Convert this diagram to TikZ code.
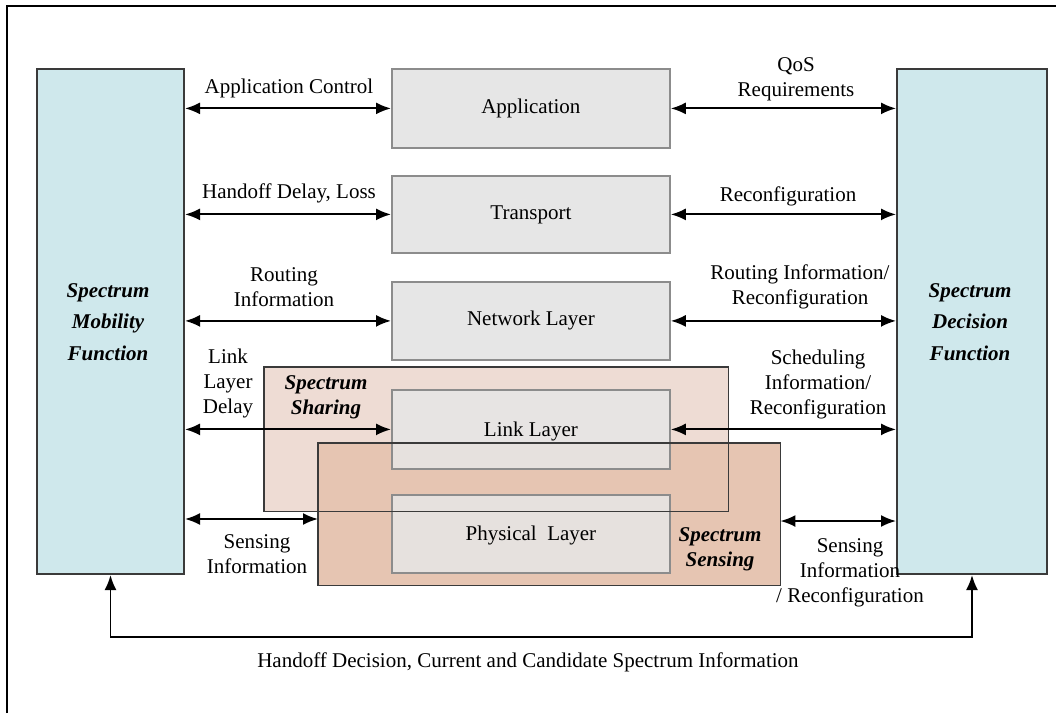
\documentclass[tikz,border=0pt]{standalone}
\usepackage{fontspec}
\setmainfont{Liberation Serif}
\usetikzlibrary{arrows.meta}
\definecolor{bluefill}{HTML}{CFE8EC}
\definecolor{grayfill}{HTML}{E6E6E6}
\definecolor{sharefill}{HTML}{EEDCD4}
\definecolor{sensefill}{HTML}{E6C5B2}
\definecolor{boxline}{HTML}{3A3A3A}
\definecolor{grayline}{HTML}{8C8C8C}
\begin{document}
\begin{tikzpicture}[x=1pt,y=-1pt,
  every node/.style={font=\fontsize{21}{25}\selectfont, align=center},
  funcbox/.style={draw=boxline, line width=2pt, fill=bluefill, inner sep=0pt, anchor=north west, minimum height=505pt},
  layerbox/.style={draw=grayline, line width=1.8pt, fill=grayfill, inner sep=0pt, anchor=north west, minimum width=278pt},
  zonefill/.style={inner sep=0pt, anchor=north west},
  zoneline/.style={draw=boxline, line width=1.6pt},
  link/.style={{Latex[length=15pt,width=12pt]}-{Latex[length=15pt,width=12pt]}, line width=1.9pt},
  lbl/.style={inner sep=0pt},
  title/.style={inner sep=0pt, font=\fontsize{21}{31.5}\selectfont\bfseries\itshape},
  ztitle/.style={inner sep=0pt, font=\fontsize{21}{25}\selectfont\bfseries\itshape}
]
\useasboundingbox (0,0) rectangle (1056,713);
\fill[white] (0,0) rectangle (1056,713);
% outer frame (only left and top edges visible)
\draw[line width=1.8pt] (7,713) -- (7,6) -- (1056,6);

% function boxes
\node[funcbox, minimum width=147pt] (mob) at (36,68) {};
\node[funcbox, minimum width=150pt] (dec) at (896,68) {};

% zone fills
\node[zonefill, fill=sharefill, minimum width=464pt, minimum height=144pt] (shr) at (264,367) {};
\node[zonefill, fill=sensefill, minimum width=462pt, minimum height=142pt] (sen) at (318,443) {};

% layer boxes
\node[layerbox, minimum height=79pt] (app) at (391,68) {};
\node[layerbox, minimum height=77pt] (trn) at (391,175) {};
\node[layerbox, minimum height=78pt] (net) at (391,281) {};
\node[layerbox, minimum height=79pt, fill opacity=0.85] (lnk) at (391,389) {};
\node[layerbox, minimum height=78pt, fill opacity=0.85] (phy) at (391,494) {};
\node at (app.center) {Application};
\node at (trn.center) {Transport};
\node at (net.center) {Network Layer};
\node at ([yshift=-2pt]lnk.center) {Link Layer};
\node at ([yshift=-2pt]phy.center) {Physical\ \ Layer};

% zone outlines
\draw[zoneline] (shr.north west) rectangle (shr.south east);
\draw[zoneline] (sen.north west) rectangle (sen.south east);

% titles
\node[title] at (108,322) {Spectrum\\Mobility\\Function};
\node[title] at (970,322) {Spectrum\\Decision\\Function};
\node[ztitle] at (326,397) {Spectrum\\Sharing};
\node[ztitle] at (720,549) {Spectrum\\Sensing};

% connectors
\draw[link] (mob.east |- app.west) -- (app.west);
\draw[link] (app.east) -- (dec.west |- app.east);
\draw[link] (mob.east |- trn.west) -- (trn.west);
\draw[link] (trn.east) -- (dec.west |- trn.east);
\draw[link] (mob.east |- net.west) -- (net.west);
\draw[link] (net.east) -- (dec.west |- net.east);
\draw[link] (mob.east |- lnk.west) -- (lnk.west);
\draw[link] (lnk.east) -- (dec.west |- lnk.east);
\coordinate (sl) at (0,519);
\coordinate (sr) at (0,521);
\draw[link] (mob.east |- sl) -- (sen.west |- sl);
\draw[link] (sen.east |- sr) -- (dec.west |- sr);
\coordinate (bot) at (0,637);
\draw[link] (mob.south) -- (mob.south |- bot) -| (dec.south);

% labels
\node[lbl] at (289,88) {Application Control};
\node[lbl] at (796,79) {QoS\\Requirements};
\node[lbl] at (289,193) {Handoff Delay, Loss};
\node[lbl] at (788,196) {Reconfiguration};
\node[lbl] at (284,287) {Routing\\Information};
\node[lbl] at (800,287) {Routing Information/\\Reconfiguration};
\node[lbl] at (228,383) {Link\\Layer\\Delay};
\node[lbl] at (818,384) {Scheduling\\Information/\\Reconfiguration};
\node[lbl] at (257,554) {Sensing\\Information};
\node[lbl] at (850,573) {Sensing\\Information\\/ Reconfiguration};
\node[lbl] at (528,662) {Handoff Decision, Current and Candidate Spectrum Information};
\end{tikzpicture}
\end{document}
